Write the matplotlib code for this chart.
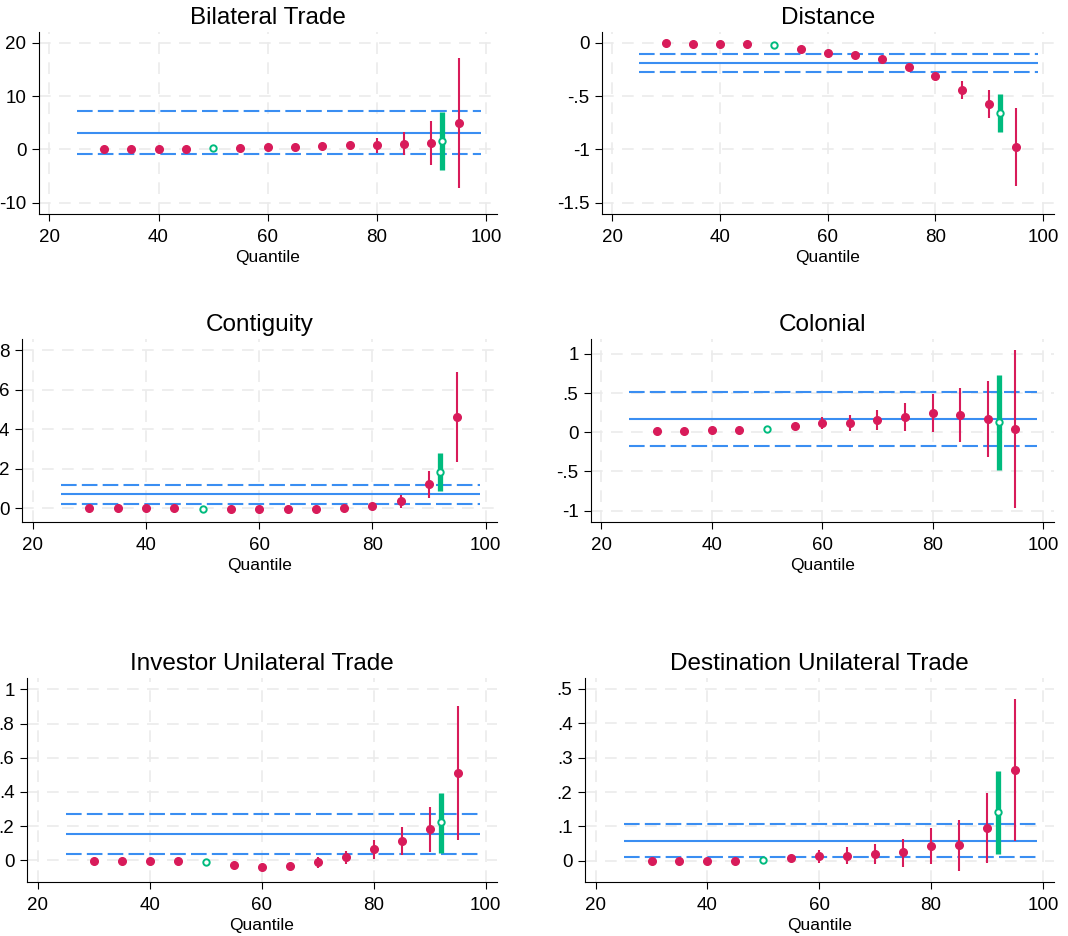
import matplotlib.pyplot as plt
import numpy as np

plt.rcParams['font.family'] = ['Liberation Sans', 'DejaVu Sans']

PINK = '#d81b5a'
GREEN = '#00bb7e'
BLUE = '#3a8ef2'
GRID = '#ebebeb'

quantiles = [30, 35, 40, 45, 50, 55, 60, 65, 70, 75, 80, 85, 90, 95]
median_q = 50
mean_q = 92

titles = ['Bilateral Trade', 'Distance', 'Contiguity', 'Colonial',
          'Investor Unilateral Trade', 'Destination Unilateral Trade']

# quantile estimates, lower and upper CI
bil_coef = [0.12, 0.12, 0.12, 0.12, 0.2, 0.3, 0.45, 0.5, 0.55, 0.75, 0.75, 1.1, 1.25, 5.0]
bil_lo = [0.05, 0.05, 0.05, 0.05, 0.1, 0.15, 0.25, 0.3, 0.3, 0.4, -0.6, -1.1, -2.9, -7.2]
bil_hi = [0.2, 0.2, 0.2, 0.2, 0.3, 0.45, 0.65, 0.7, 0.8, 1.1, 2.05, 3.25, 5.3, 17.1]

dist_coef = [-0.006, -0.01, -0.01, -0.013, -0.022, -0.06, -0.1, -0.12, -0.155, -0.225, -0.31, -0.44, -0.575, -0.975]
dist_lo = [-0.012, -0.016, -0.016, -0.02, -0.03, -0.07, -0.115, -0.135, -0.175, -0.256, -0.35, -0.525, -0.71, -1.34]
dist_hi = [0.0, -0.004, -0.004, -0.006, -0.014, -0.05, -0.085, -0.105, -0.135, -0.2, -0.28, -0.36, -0.44, -0.61]

cont_coef = [0.0, 0.0, 0.0, 0.0, -0.02, -0.03, -0.05, -0.05, -0.03, 0.02, 0.12, 0.39, 1.21, 4.61]
cont_lo = [-0.03, -0.03, -0.03, -0.03, -0.05, -0.06, -0.08, -0.08, -0.07, -0.03, 0.0, 0.03, 0.54, 2.34]
cont_hi = [0.03, 0.03, 0.03, 0.03, 0.01, 0.0, -0.02, -0.02, 0.01, 0.07, 0.25, 0.7, 1.87, 6.89]

col_coef = [0.02, 0.02, 0.023, 0.028, 0.036, 0.075, 0.12, 0.12, 0.16, 0.19, 0.245, 0.225, 0.165, 0.04]
col_lo = [0.01, 0.01, 0.012, 0.015, 0.02, 0.05, 0.045, 0.02, 0.03, 0.02, 0.0, -0.13, -0.32, -0.97]
col_hi = [0.03, 0.03, 0.034, 0.04, 0.05, 0.1, 0.19, 0.22, 0.29, 0.37, 0.485, 0.57, 0.65, 1.055]

inv_coef = [-0.006, -0.006, -0.006, -0.006, -0.008, -0.025, -0.039, -0.033, -0.012, 0.019, 0.064, 0.111, 0.181, 0.511]
inv_lo = [-0.009, -0.009, -0.009, -0.009, -0.012, -0.033, -0.048, -0.045, -0.043, -0.02, 0.008, 0.03, 0.049, 0.119]
inv_hi = [-0.003, -0.003, -0.003, -0.003, -0.004, -0.017, -0.03, -0.021, 0.02, 0.058, 0.119, 0.195, 0.312, 0.903]

dst_coef = [-0.001, 0.0, 0.0, 0.0, 0.002, 0.008, 0.013, 0.015, 0.019, 0.024, 0.044, 0.045, 0.095, 0.264]
dst_lo = [-0.003, -0.002, -0.002, -0.002, 0.0, 0.0, -0.006, -0.009, -0.011, -0.018, -0.01, -0.029, -0.006, 0.056]
dst_hi = [0.001, 0.002, 0.002, 0.002, 0.004, 0.016, 0.03, 0.039, 0.05, 0.063, 0.096, 0.119, 0.197, 0.47]

# mean (OLS) estimate and CI, plotted at x = mean_q
mean_coef = [1.55, -0.66, 1.85, 0.134, 0.222, 0.142]
mean_lo = [-3.8, -0.84, 0.88, -0.48, 0.041, 0.02]
mean_hi = [7.0, -0.48, 2.8, 0.73, 0.394, 0.262]

# horizontal reference line and its CI
ref_coef = [3.1, -0.194, 0.72, 0.168, 0.156, 0.057]
ref_lo = [-0.95, -0.275, 0.24, -0.177, 0.037, 0.0097]
ref_hi = [7.2, -0.11, 1.18, 0.51, 0.273, 0.106]
ref_span = (25, 99)

coefs = [bil_coef, dist_coef, cont_coef, col_coef, inv_coef, dst_coef]
los = [bil_lo, dist_lo, cont_lo, col_lo, inv_lo, dst_lo]
his = [bil_hi, dist_hi, cont_hi, col_hi, inv_hi, dst_hi]

yticks = [[-10, 0, 10, 20], [-1.5, -1, -0.5, 0], [0, 2, 4, 6, 8],
          [-1, -0.5, 0, 0.5, 1], [0, 0.2, 0.4, 0.6, 0.8, 1], [0, 0.1, 0.2, 0.3, 0.4, 0.5]]
ylims = [(-12.1, 22), (-1.606, 0.1), (-0.69, 8.56), (-1.145, 1.19), (-0.126, 1.066), (-0.062, 0.532)]

# pixel boxes (left, right, top, bottom)
boxes = [(39, 497, 32, 214), (602, 1054, 32, 214),
         (22, 497, 339, 522), (591, 1054, 339, 522),
         (27, 497, 678, 882), (585, 1054, 678, 882)]

W, H = 1068, 936


def stata_fmt(v):
    if abs(v - round(v)) < 1e-9:
        return '%d' % round(v)
    s = ('%g' % v)
    return s.replace('0.', '.')


fig = plt.figure(figsize=(W / 100, H / 100), dpi=100)

for i in range(6):
    l, r, t, b = boxes[i]
    ax = fig.add_axes([l / W, 1 - b / H, (r - l) / W, (b - t) / H])
    ax.set_xlim(18.1, 102)
    ax.set_ylim(*ylims[i])
    ax.set_xticks([20, 40, 60, 80, 100])
    ax.set_yticks(yticks[i])
    ax.set_yticklabels([stata_fmt(v) for v in yticks[i]])
    ax.grid(True, color=GRID, linestyle=(0, (7, 5)), linewidth=1.2)
    ax.set_axisbelow(True)
    for s in ['top', 'right']:
        ax.spines[s].set_visible(False)
    ax.tick_params(direction='out', length=5, labelsize=13.5, width=0.8, pad=4)
    ax.tick_params(axis='x', pad=6)
    ax.set_title(titles[i], fontsize=17.5, pad=6)
    ax.set_xlabel('Quantile', fontsize=12.5, labelpad=3)

    ax.hlines(ref_coef[i], *ref_span, color=BLUE, linewidth=1.5, zorder=2)
    ax.hlines([ref_lo[i], ref_hi[i]], *ref_span, color=BLUE, linewidth=1.5,
              linestyles=(0, (7.5, 2.5)), zorder=2)

    q = np.array(quantiles)
    c = np.array(coefs[i])
    lo = np.array(los[i])
    hi = np.array(his[i])
    ax.vlines(q, lo, hi, color=PINK, linewidth=1.5, zorder=3)
    med = q == median_q
    ax.plot(q[~med], c[~med], 'o', color=PINK, markersize=5.5, zorder=4)
    ax.plot(q[med], c[med], 'o', markerfacecolor='white', markeredgecolor=GREEN,
            markeredgewidth=1.4, markersize=4.6, zorder=4)

    ax.vlines(mean_q, mean_lo[i], mean_hi[i], color=GREEN, linewidth=3.8, zorder=3)
    ax.plot([mean_q], [mean_coef[i]], 'o', markerfacecolor='white', markeredgecolor=GREEN,
            markeredgewidth=1.4, markersize=4.6, zorder=5)

fig.savefig('out.png', dpi=100)
